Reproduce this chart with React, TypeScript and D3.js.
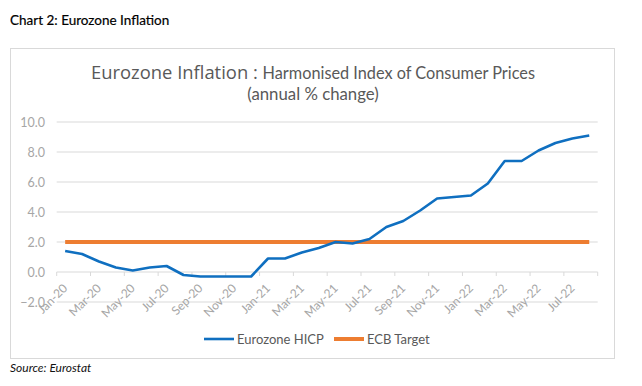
import React, { useEffect, useRef } from 'react'
import * as d3 from 'd3'

// Eurozone HICP, annual % change, Jan-20 .. Aug-22
const months = [
  'Jan-20', 'Feb-20', 'Mar-20', 'Apr-20', 'May-20', 'Jun-20', 'Jul-20', 'Aug-20',
  'Sep-20', 'Oct-20', 'Nov-20', 'Dec-20', 'Jan-21', 'Feb-21', 'Mar-21', 'Apr-21',
  'May-21', 'Jun-21', 'Jul-21', 'Aug-21', 'Sep-21', 'Oct-21', 'Nov-21', 'Dec-21',
  'Jan-22', 'Feb-22', 'Mar-22', 'Apr-22', 'May-22', 'Jun-22', 'Jul-22', 'Aug-22',
]
const hicp = [
  1.4, 1.2, 0.7, 0.3, 0.1, 0.3, 0.4, -0.2,
  -0.3, -0.3, -0.3, -0.3, 0.9, 0.9, 1.3, 1.6,
  2.0, 1.9, 2.2, 3.0, 3.4, 4.1, 4.9, 5.0,
  5.1, 5.9, 7.4, 7.4, 8.1, 8.6, 8.9, 9.1,
]
const ecbTarget = months.map(() => 2.0)
const yTicks = [-2, 0, 2, 4, 6, 8, 10]

const BLUE = '#0f6fc0'
const ORANGE = '#ed7d31'
const GRID = '#d9d9d9'
const LABEL = '#a6a6a6'
const TEXT = '#595959'
const NARROW = 'Lato, "Noto Sans", sans-serif'

export default function App() {
  const ref = useRef<SVGSVGElement>(null)

  useEffect(() => {
    const svg = d3.select(ref.current)
    svg.selectAll('*').remove()

    const x = d3.scaleBand().domain(months).range([56.7, 597.7])
    const y = d3.scaleLinear().domain([-2, 10]).range([302, 122])
    const cx = (m: string) => (x(m) as number) + x.bandwidth() / 2

    // header + source outside the box
    svg.append('text')
      .attr('x', 10).attr('y', 25)
      .attr('font-family', NARROW).attr('font-size', 13.5)
      .attr('fill', '#000').attr('stroke', '#000').attr('stroke-width', 0.2)
      .text('Chart 2: Eurozone Inflation')

    svg.append('text')
      .attr('x', 10).attr('y', 372)
      .attr('font-family', NARROW).attr('font-size', 12).attr('font-style', 'italic')
      .attr('fill', '#111')
      .text('Source: Eurostat')

    // chart box
    svg.append('rect')
      .attr('x', 10.5).attr('y', 48.5).attr('width', 604).attr('height', 310)
      .attr('fill', '#fff').attr('stroke', GRID)

    // title
    const title = svg.append('text')
      .attr('x', 313).attr('y', 79).attr('text-anchor', 'middle').attr('fill', TEXT)
    title.append('tspan')
      .attr('font-family', '"Open Sans", sans-serif').attr('font-size', 18.4)
      .text('Eurozone Inflation : ')
    title.append('tspan')
      .attr('font-family', NARROW).attr('font-size', 16.3)
      .text('Harmonised Index of Consumer Prices')
    svg.append('text')
      .attr('x', 313).attr('y', 100).attr('text-anchor', 'middle').attr('fill', TEXT)
      .attr('font-family', NARROW).attr('font-size', 16.8)
      .text('(annual % change)')

    // y grid + labels
    const [x0, x1] = x.range()
    svg.append('g').selectAll('line').data(yTicks).enter().append('line')
      .attr('x1', x0).attr('x2', x1)
      .attr('y1', (d) => y(d)).attr('y2', (d) => y(d))
      .attr('stroke', GRID).attr('stroke-width', 1)
    svg.append('g').selectAll('text').data(yTicks).enter().append('text')
      .attr('x', 45).attr('y', (d) => y(d) + 4.5)
      .attr('text-anchor', 'end')
      .attr('font-family', NARROW).attr('font-size', 12.5).attr('fill', LABEL)
      .text((d) => d3.format('.1f')(d))

    // x axis ticks at band edges, every second category
    const tickIdx = d3.range(0, months.length + 1, 2)
    svg.append('g').selectAll('line').data(tickIdx).enter().append('line')
      .attr('x1', (i) => x0 + i * x.step()).attr('x2', (i) => x0 + i * x.step())
      .attr('y1', y(0)).attr('y2', y(0) + 4)
      .attr('stroke', GRID)

    const labelMonths = months.filter((_, i) => i % 2 === 0)
    svg.append('g').selectAll('text').data(labelMonths).enter().append('text')
      .attr('transform', (m) => `translate(${cx(m) + 3},${y(0) + 17}) rotate(-45)`)
      .attr('text-anchor', 'end')
      .attr('font-family', NARROW).attr('font-size', 12).attr('fill', LABEL)
      .text((m) => m)

    // series
    const line = d3.line<number>()
      .x((_, i) => cx(months[i]))
      .y((d) => y(d))

    svg.append('path').datum(ecbTarget)
      .attr('d', line).attr('fill', 'none')
      .attr('stroke', ORANGE).attr('stroke-width', 4)

    svg.append('path').datum(hicp)
      .attr('d', line).attr('fill', 'none')
      .attr('stroke', BLUE).attr('stroke-width', 2.6).attr('stroke-linejoin', 'round')

    // legend
    const legend = [
      { name: 'Eurozone HICP', color: BLUE, w: 2.6, x: 204 },
      { name: 'ECB Target', color: ORANGE, w: 4, x: 334 },
    ]
    const lg = svg.append('g').selectAll('g').data(legend).enter().append('g')
      .attr('transform', (d) => `translate(${d.x},339)`)
    lg.append('line')
      .attr('x1', 0).attr('x2', 30).attr('y1', 0).attr('y2', 0)
      .attr('stroke', (d) => d.color).attr('stroke-width', (d) => d.w)
    lg.append('text')
      .attr('x', 33).attr('y', 4.5)
      .attr('font-family', NARROW).attr('font-size', 13).attr('fill', TEXT)
      .text((d) => d.name)
  }, [])

  return (
    <svg
      ref={ref}
      width={642}
      height={386}
      style={{ position: 'absolute', left: 0, top: 0, background: '#fff' }}
    />
  )
}
